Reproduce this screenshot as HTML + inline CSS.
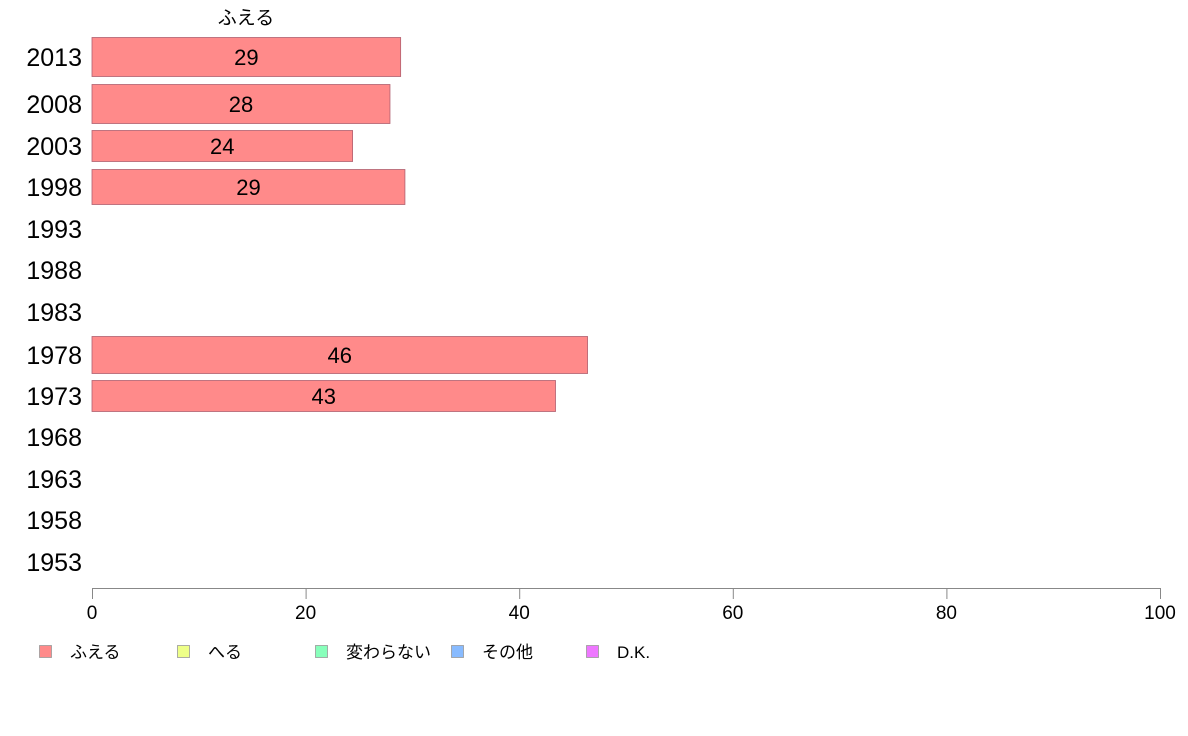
<!DOCTYPE html>
<html><head><meta charset="utf-8"><style>
body{margin:0;background:#fff;}
svg{display:block;font-family:"Liberation Sans","Noto Sans CJK JP",sans-serif;}
</style></head><body>
<svg width="1188" height="736">
<text x="246" y="24" font-size="19" text-anchor="middle">ふえる</text>
<g id="rows"></g>
<g id="axis"></g>
<g id="legend"></g>
</svg>
<script>
const years=["2013","2008","2003","1998","1993","1988","1983","1978","1973","1968","1963","1958","1953"];
const values=[28.9,27.9,24.4,29.3,null,null,null,46.4,43.4,null,null,null,null];
const valueLabels=["29","28","24","29","","","","46","43","","","",""];
const ticks=[0,20,40,60,80,100];
const legendLabels=["ふえる","へる","変わらない","その他","D.K."];
const legendColors=["#ff8a8a","#eeff88","#88ffbb","#88bbff","#ee77ff"];
const rowY=[57,104,146,187,229,270,312,355,396,437,479,520,562];
const rowH=[39,39,31,35,36,36,36,37,31,36,36,36,36];
const ns="http://www.w3.org/2000/svg";
const x=v=>92+v*10.68;
const rows=document.getElementById('rows');
years.forEach((yr,i)=>{
  const t=document.createElementNS(ns,'text');
  
  
  t.setAttribute('x',82);t.setAttribute('y',rowY[i]+9);t.setAttribute('font-size','25');t.setAttribute('text-anchor','end');
  t.textContent=yr;rows.appendChild(t);
  if(values[i]!=null){
    const r=document.createElementNS(ns,'rect');
    
    
    r.setAttribute('x',x(0));r.setAttribute('y',rowY[i]-rowH[i]/2);
    r.setAttribute('width',x(values[i])-x(0));r.setAttribute('height',rowH[i]);
    r.setAttribute('fill','#ff8a8a');r.setAttribute('stroke','#b06070');r.setAttribute('stroke-width','0.8');
    rows.appendChild(r);
    const l=document.createElementNS(ns,'text');
    
    
    l.setAttribute('x',(x(0)+x(values[i]))/2);l.setAttribute('y',rowY[i]+8);
    l.setAttribute('font-size','22');l.setAttribute('text-anchor','middle');
    l.textContent=valueLabels[i];rows.appendChild(l);
  }
});
const ax=document.getElementById('axis');
const line=document.createElementNS(ns,'line');


line.setAttribute('x1',x(0));line.setAttribute('x2',x(100));line.setAttribute('y1',588.5);line.setAttribute('y2',588.5);line.setAttribute('stroke','#888');
ax.appendChild(line);
ticks.forEach(v=>{
  const tk=document.createElementNS(ns,'line');
  
  
  tk.setAttribute('x1',x(v)+0.5);tk.setAttribute('x2',x(v)+0.5);tk.setAttribute('y1',588);tk.setAttribute('y2',599);tk.setAttribute('stroke','#888');
  ax.appendChild(tk);
  const t=document.createElementNS(ns,'text');
  
  
  t.setAttribute('x',x(v));t.setAttribute('y',619);t.setAttribute('font-size','19');t.setAttribute('text-anchor','middle');
  t.textContent=v;ax.appendChild(t);
});
const lg=document.getElementById('legend');
const lx=[39,177,315,451,586];
legendLabels.forEach((s,i)=>{
  const r=document.createElementNS(ns,'rect');
  
  
  r.setAttribute('x',lx[i]+0.5);r.setAttribute('y',645.5);r.setAttribute('width',12);r.setAttribute('height',12);
  r.setAttribute('fill',legendColors[i]);r.setAttribute('stroke','#999');r.setAttribute('stroke-width','0.8');
  lg.appendChild(r);
  const t=document.createElementNS(ns,'text');
  
  
  t.setAttribute('x',lx[i]+31);t.setAttribute('y',658);t.setAttribute('font-size','17');
  t.textContent=s;lg.appendChild(t);
});
</script>
</body></html>
